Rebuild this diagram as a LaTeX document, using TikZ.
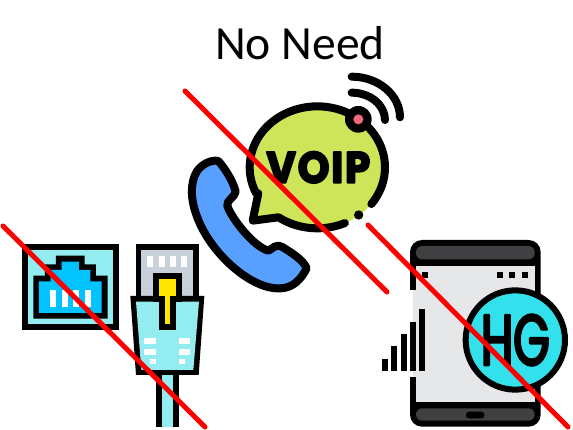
\documentclass[tikz,border=0pt]{standalone}
\usepackage{fontspec}
\setmainfont{Carlito}
\newfontfamily\voipfont[FakeStretch=0.92,LetterSpace=4]{Poppins}
\newfontfamily\hgfont[FakeStretch=0.65]{Poppins}
\definecolor{lightcy}{RGB}{146,236,240}
\definecolor{jackblue}{RGB}{0,195,255}
\definecolor{plate}{RGB}{200,208,218}
\definecolor{tabyel}{RGB}{255,230,0}
\definecolor{hgcy}{RGB}{50,225,235}
\definecolor{screen}{RGB}{230,231,232}
\definecolor{bezel}{RGB}{64,64,66}
\definecolor{bubble}{RGB}{206,229,90}
\definecolor{led}{RGB}{242,105,125}
\definecolor{handset}{RGB}{88,160,255}
\definecolor{crossred}{RGB}{255,0,0}
\tikzset{
  wht/.style={fill=white,draw=none},
  icon/.style={draw=black,line width=8pt,line cap=round,line join=round},
  cross/.style={draw=crossred,line width=5pt,line cap=round},
}
\begin{document}
\begin{tikzpicture}[x=1pt,y=-1pt]
\useasboundingbox (0,0) rectangle (573,430);
% socket + plug
\begin{scope}[shift={(0,210)},scale=1/3]
  \fill[black] (67,103) rectangle (356,359);
  \fill[lightcy] (83,120) rectangle (340,343);
  \fill[black] (100,197)--(135,197)--(135,163)--(168,163)--(168,137)--(254,137)--(254,163)--(288,163)--(288,197)--(323,197)--(323,326)--(100,326)--cycle;
  \fill[jackblue] (117,214)--(152,214)--(152,180)--(185,180)--(185,155)--(237,155)--(237,180)--(271,180)--(271,214)--(305,214)--(305,309)--(117,309)--cycle;
  \foreach \a in {150,185,219,254} \fill[wht] (\a,240) rectangle (\a+18,291);
  % plug
  \fill[black] (468,490) rectangle (536,650);
  \fill[lightcy] (485,490) rectangle (519,650);
  \fill[black] (408,103) rectangle (596,265);
  \fill[plate] (424,120) rectangle (580,262);
  \foreach \a in {442,476,510,544} \fill[wht] (\a,137) rectangle (\a+18,172);
  \fill[black] (391,258)--(613,258)--(596,495)--(408,495)--cycle;
  \fill[lightcy] (408,275)--(597,275)--(580,480)--(424,480)--cycle;
  \fill[black] (459,188) rectangle (545,275);
  \fill[black] (476,258) rectangle (528,360);
  \fill[tabyel] (476,206) rectangle (528,257);
  \fill[tabyel] (494,257) rectangle (511,343);
  \foreach \a/\b/\c in {433/385/468,433/417/468,450/446/468,536/385/571,536/417/571,536/446/554}
    \fill[wht] (\a,\b) rectangle (\c,\b+17);
\end{scope}
% handset and bubble
\begin{scope}[shift={(170,60)},scale=1/3]
  \path[icon,fill=handset] (145,303) .. controls (165,325) and (190,365) .. (197,395)
    .. controls (195,412) and (168,420) .. (172,438)
    .. controls (185,475) and (250,560) .. (295,572)
    .. controls (310,565) and (315,552) .. (335,560)
    .. controls (365,578) and (400,600) .. (410,625)
    .. controls (395,655) and (370,685) .. (330,685)
    .. controls (250,690) and (130,590) .. (85,480)
    .. controls (60,420) and (60,370) .. (80,335)
    .. controls (95,312) and (125,298) .. (145,303) -- cycle;
  \fill[bubble] plot[domain=155:485,samples=70] ({442+203*cos(\x)},{322+183*sin(\x)}) -- (248,482) -- cycle;
  \draw[icon] plot[domain=155:397,samples=60] ({442+203*cos(\x)},{322+183*sin(\x)});
  \draw[icon] plot[domain=426:485,samples=20] ({442+203*cos(\x)},{322+183*sin(\x)}) -- (248,482) -- (265,400);
  \fill[black] (566,465) circle (14);
  \fill[black] (565,178) circle (40);
  \fill[led] (565,178) circle (15);
  \draw[icon] (545,98) .. controls (600,98) and (645,135) .. (645,180);
  \draw[icon] (545,50) .. controls (625,50) and (690,105) .. (690,172);
  \node[font=\voipfont\bfseries\fontsize{44}{44}\selectfont,inner sep=0pt,text=black] (voip) at (445,322) {\special{pdf:code q 2 Tr 1.8 w 1 j 0 0 0 RG}VOIP\special{pdf:code Q}};
\end{scope}
% mobile
\begin{scope}[shift={(360,220)},scale=1/3]
  \fill[black,rounded corners=12pt] (150,60) rectangle (542,620);
  \fill[wht] (145,210) rectangle (160,472);
  \fill[screen] (168,137) rectangle (524,545);
  \fill[screen] (160,210) rectangle (170,472);
  \fill[bezel,rounded corners=6pt] (168,118)--(168,78)--(524,78)--(524,118)--cycle;
  \fill[bezel,rounded corners=6pt] (168,565)--(524,565)--(524,602)--(168,602)--cycle;
  \fill[black,rounded corners=3pt] (318,575) rectangle (373,595);
  \foreach \a in {187,411,448,486} \fill[black] (\a,155) rectangle (\a+18,173);
  \foreach \a/\b in {66/416,94/379,122/342,150/305,178/267} \fill[black] (\a,\b) rectangle (\a+18,453);
  \filldraw[fill=hgcy,draw=black,line width=6pt] (466,360) circle (149);
  \node[inner sep=0pt,font=\hgfont\fontsize{72}{72}\selectfont,text=black] (hg) at (466,360) {\special{pdf:code q 2 Tr 2.4 w 1 j 0 0 0 RG}HG\special{pdf:code Q}};
\end{scope}
\node[inner sep=0pt,font=\fontsize{47.6}{48}\selectfont] (title) at (300,43) {No Need};
\coordinate (c1a) at (3,226); \coordinate (c1b) at (205,427);
\coordinate (c2a) at (185,91); \coordinate (c2b) at (387,292);
\coordinate (c3a) at (368,225); \coordinate (c3b) at (568,427);
\draw[cross] (c1a)--(c1b);
\draw[cross] (c2a)--(c2b);
\draw[cross] (c3a)--(c3b);
\end{tikzpicture}
\end{document}
